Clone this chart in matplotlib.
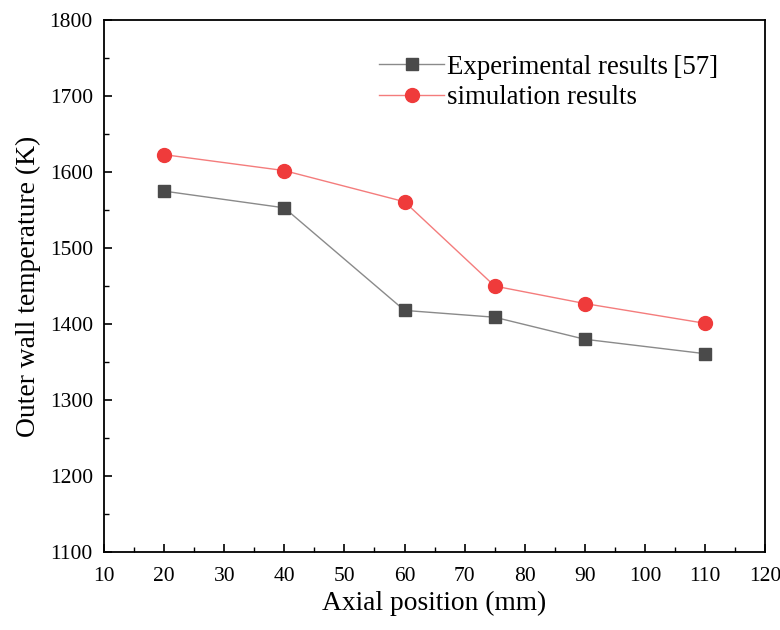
import matplotlib
matplotlib.use("Agg")
import matplotlib.pyplot as plt
from matplotlib.ticker import MultipleLocator

plt.rcParams['font.family'] = ['Liberation Serif', 'DejaVu Serif']

axial_mm = [20, 40, 60, 75, 90, 110]
experimental_K = [1575, 1553, 1418, 1409, 1380, 1361]
simulation_K = [1623, 1602, 1561, 1450, 1427, 1401]

fig = plt.figure(figsize=(7.8, 6.3), dpi=100)
ax = fig.add_axes([0.1333, 0.1238, 0.8477, 0.8442])

ax.plot(axial_mm, experimental_K, color='#8a8a8a', lw=1.0, marker='s', ms=9,
        mfc='#4a4a4a', mec='#4a4a4a', label='Experimental results\u2009[57]')
ax.plot(axial_mm, simulation_K, color='#f47c7c', lw=1.0, marker='o', ms=10,
        mfc='#ef3b3b', mec='#ef3b3b', label='simulation results')

ax.set_xlim(10, 120)
ax.set_ylim(1100, 1800)
ax.xaxis.set_major_locator(MultipleLocator(10))
ax.xaxis.set_minor_locator(MultipleLocator(5))
ax.yaxis.set_major_locator(MultipleLocator(100))
ax.yaxis.set_minor_locator(MultipleLocator(50))
ax.tick_params(which='both', direction='in', top=False, right=False, labelsize=15.5)
ax.tick_params(which='major', length=6, width=1.2)
ax.tick_params(axis='x', which='major', pad=11)
ax.tick_params(axis='y', which='major', pad=8)
ax.tick_params(which='minor', length=3.5, width=1.0)
for s in ax.spines.values():
    s.set_linewidth(1.3)

ax.set_xlabel('Axial position (mm)', fontsize=19.8, labelpad=3)
ax.set_ylabel('Outer wall temperature (K)', fontsize=19.8, labelpad=6)

ax.legend(loc='upper left', bbox_to_anchor=(0.4, 0.955), frameon=False,
          fontsize=19.4, handlelength=2.4, handletextpad=0.1, labelspacing=0.2,
          borderaxespad=0)

fig.savefig('out.png', dpi=100)
